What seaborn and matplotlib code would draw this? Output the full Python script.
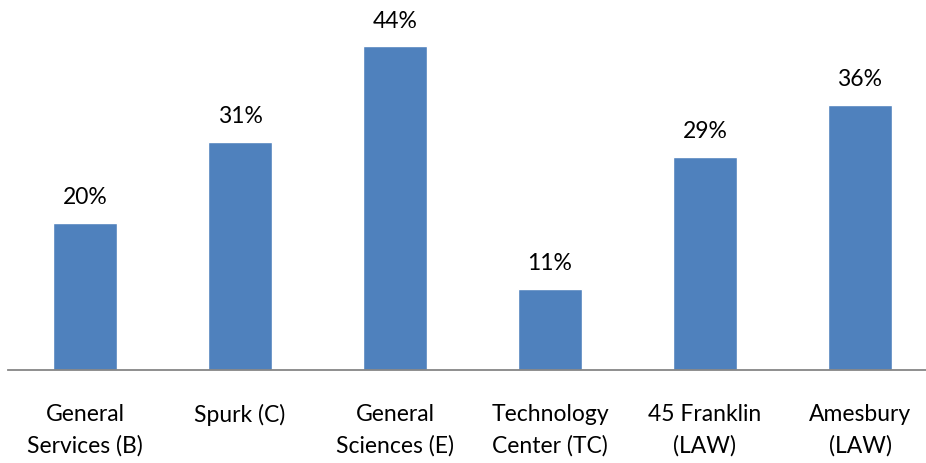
import matplotlib
matplotlib.use("Agg")
import matplotlib.pyplot as plt
import seaborn as sns
import pandas as pd

categories = [
    "General\nServices (B)",
    "Spurk (C)",
    "General\nSciences (E)",
    "Technology\nCenter (TC)",
    "45 Franklin\n(LAW)",
    "Amesbury\n(LAW)",
]
shares = [0.20, 0.31, 0.44, 0.11, 0.29, 0.36]
value_labels = ["20%", "31%", "44%", "11%", "29%", "36%"]

df = pd.DataFrame({"site": categories, "share": shares})

sns.set_style("white")
plt.rcParams["font.family"] = ["Lato", "DejaVu Sans"]

fig = plt.figure(figsize=(9.26, 4.63), dpi=100)
ax = fig.add_axes([7.5 / 926, 93 / 463, 1 - 7.5 / 926, 368 / 463])

sns.barplot(data=df, x="site", y="share", color="#4F81BD", saturation=1,
            width=0.41, ax=ax)

ax.set_ylim(0, 0.5)
ax.set_xlim(-0.5, 5.5 - 11.5 / 155)

for cont in ax.containers:
    ax.bar_label(cont, labels=value_labels, padding=10.5, fontsize=16.5,
                 color="#000000")

for side in ["left", "right", "top"]:
    ax.spines[side].set_visible(False)
ax.spines["bottom"].set_color("#868686")
ax.spines["bottom"].set_linewidth(1.3)

ax.set_yticks([])
ax.set_xlabel("")
ax.set_ylabel("")
ax.tick_params(axis="x", length=0, pad=24.5, labelsize=16.5, labelcolor="#000000")
for lbl in ax.get_xticklabels():
    lbl.set_linespacing(1.6)

fig.savefig("out.png", dpi=100)
